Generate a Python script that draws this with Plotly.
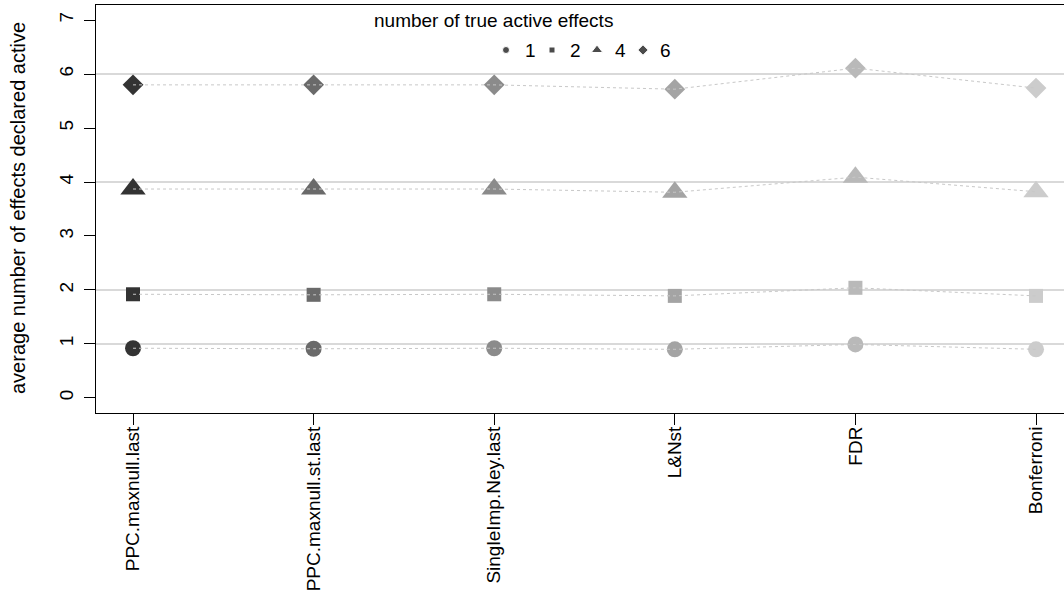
import plotly.graph_objects as go

# ---- data ----
methods = ["PPC.maxnull.last", "PPC.maxnull.st.last", "SingleImp.Ney.last",
           "L&Nst", "FDR", "Bonferroni"]
true_active = [1, 2, 4, 6]
avg_1 = [0.92, 0.91, 0.92, 0.90, 0.99, 0.90]
avg_2 = [1.92, 1.91, 1.92, 1.89, 2.04, 1.89]
avg_4 = [3.87, 3.87, 3.87, 3.81, 4.09, 3.82]
avg_6 = [5.80, 5.80, 5.80, 5.72, 6.11, 5.74]
y_ticks = [0, 1, 2, 3, 4, 5, 6, 7]

series = [avg_1, avg_2, avg_4, avg_6]
symbols = ["circle", "square", "triangle-up", "diamond"]
msizes = [16, 14, 22, 16]
method_colors = ["#333333", "#6A6A6A", "#8B8B8B", "#A4A4A4", "#B9B9B9", "#CCCCCC"]

FONT = "Liberation Sans, Arial, sans-serif"
FS = 19
W, H = 1064, 602
ML, MR, MT, MB = 96, 0, 5, 189
x_pos = list(range(1, len(methods) + 1))

fig = go.Figure()

# markers
for vals, sym, ms in zip(series, symbols, msizes):
    fig.add_trace(go.Scatter(
        x=x_pos, y=vals, mode="markers",
        marker=dict(symbol=sym, size=ms, color=method_colors, line=dict(width=0)),
        showlegend=False, hoverinfo="x+y"))

# dotted connecting lines drawn on top
for vals in series:
    fig.add_trace(go.Scatter(
        x=x_pos, y=vals, mode="lines",
        line=dict(color="#C8C8C8", width=1, dash="3px,3px"),
        showlegend=False, hoverinfo="skip"))

# horizontal reference lines at true active counts
shapes = []
for t in true_active:
    shapes.append(dict(type="line", xref="paper", yref="y", x0=0, x1=1, y0=t, y1=t,
                       line=dict(color="#D9D9D9", width=2), layer="below"))

def px2paper_x(px):
    return (px - ML) / (W - ML - MR)

def px2paper_y(py):
    return (H - MB - py) / (H - MB - MT)

# manual legend
leg_sym_x = [506, 552, 597, 643]
leg_txt_x = [530, 575, 620, 665]
leg_sizes = [7, 6, 10, 8]
fig.add_trace(go.Scatter(
    x=[px2paper_x(p) for p in leg_sym_x], y=[px2paper_y(50)] * 4,
    xaxis="x2", yaxis="y2", mode="markers",
    marker=dict(symbol=symbols, size=leg_sizes, color="black"),
    showlegend=False, hoverinfo="skip"))

annotations = [dict(text="number of true active effects", xref="paper", yref="paper",
                    x=px2paper_x(493), y=px2paper_y(21), showarrow=False,
                    xanchor="center", yanchor="middle",
                    font=dict(family=FONT, size=FS, color="black"))]
for t, px in zip(true_active, leg_txt_x):
    annotations.append(dict(text=str(t), xref="paper", yref="paper",
                            x=px2paper_x(px), y=px2paper_y(50), showarrow=False,
                            xanchor="center", yanchor="middle",
                            font=dict(family=FONT, size=FS, color="black")))
# y-axis title
annotations.append(dict(text="average number of effects declared active",
                        xref="paper", yref="paper", x=px2paper_x(18), y=px2paper_y(208),
                        showarrow=False, textangle=-90, xanchor="center", yanchor="middle",
                        font=dict(family=FONT, size=20, color="black")))

fig.update_layout(
    width=W, height=H,
    margin=dict(l=ML, r=MR, t=MT, b=MB, pad=0, autoexpand=False),
    paper_bgcolor="white", plot_bgcolor="white",
    font=dict(family=FONT, size=FS, color="black"),
    shapes=shapes, annotations=annotations,
    xaxis=dict(range=[0.795, 6.155], tickmode="array", tickvals=x_pos, ticktext=methods,
               tickangle=-90, ticks="outside", ticklen=11, tickcolor="black", tickwidth=1,
               showline=True, linecolor="black", linewidth=1, mirror=True,
               showgrid=False, zeroline=False, tickfont=dict(size=FS), automargin=False,
               ticklabelstandoff=-6),
    yaxis=dict(range=[-0.28, 7.28], tickmode="array", tickvals=y_ticks,
               tickangle=-90, ticks="outside", ticklen=11, tickcolor="black", tickwidth=1,
               showline=True, linecolor="black", linewidth=1, mirror=False,
               showgrid=False, zeroline=False, tickfont=dict(size=FS), automargin=False,
               ticklabelstandoff=3),
    xaxis2=dict(range=[0, 1], overlaying="x", visible=False, fixedrange=True),
    yaxis2=dict(range=[0, 1], overlaying="y", visible=False, fixedrange=True),
)

fig.write_html("out.html", config={"displayModeBar": False},
               post_script="document.body.style.margin='0';")
